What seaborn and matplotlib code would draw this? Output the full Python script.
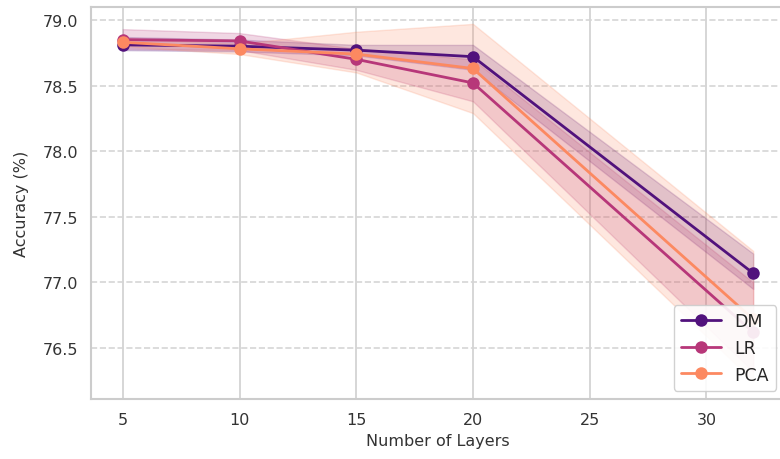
import matplotlib
matplotlib.use("Agg")
import matplotlib.pyplot as plt
import pandas as pd
import seaborn as sns

## Values
layers = [5, 10, 15, 20, 32]
methods = ["DM", "LR", "PCA"]

dm_mean = [78.81, 78.80, 78.77, 78.72, 77.07]
dm_low = [78.77, 78.76, 78.73, 78.62, 76.95]
dm_high = [78.87, 78.85, 78.81, 78.81, 77.22]

lr_mean = [78.85, 78.84, 78.70, 78.52, 76.62]
lr_low = [78.78, 78.77, 78.62, 78.38, 76.32]
lr_high = [78.93, 78.90, 78.78, 78.70, 77.00]

pca_mean = [78.83, 78.78, 78.74, 78.63, 76.72]
pca_low = [78.80, 78.74, 78.60, 78.29, 76.25]
pca_high = [78.86, 78.82, 78.91, 78.97, 77.24]

## Long data frame for seaborn
df = pd.DataFrame({
    "Number of Layers": layers * 3,
    "Accuracy (%)": dm_mean + lr_mean + pca_mean,
    "Method": ["DM"] * 5 + ["LR"] * 5 + ["PCA"] * 5,
})

sns.set_theme(style="whitegrid")
palette = sns.color_palette("magma", 3)

fig, ax = plt.subplots(figsize=(7.8, 4.6), dpi=100)
fig.subplots_adjust(left=0.117, right=1.006, top=0.983, bottom=0.13)

# shaded bands
bands = [(dm_low, dm_high), (lr_low, lr_high), (pca_low, pca_high)]
for (lo, hi), c in zip(bands, palette):
    ax.fill_between(layers, lo, hi, color=c, alpha=0.2, zorder=1)

sns.lineplot(data=df, x="Number of Layers", y="Accuracy (%)", hue="Method",
             hue_order=methods, palette=palette, marker="o", markersize=9,
             markeredgewidth=0, linewidth=2, errorbar=None, ax=ax, zorder=3)

ax.set_xlim(3.65, 33.35)
ax.set_ylim(76.11, 79.10)
ax.set_xticks([5, 10, 15, 20, 25, 30])
ax.set_yticks([76.5, 77.0, 77.5, 78.0, 78.5, 79.0])
ax.grid(axis="y", linestyle="--", linewidth=1.2, color="#d5d5d5")
ax.grid(axis="x", linestyle="-", linewidth=1.2, color="#d0d0d0")
for s in ax.spines.values():
    s.set_color("#cccccc")
    s.set_linewidth(1.5)

ax.tick_params(labelsize=11.5, colors="#333333")
ax.set_xlabel("Number of Layers", fontsize=11.5, color="#333333")
ax.set_ylabel("Accuracy (%)", fontsize=11.5, color="#333333", labelpad=10)

# Legend
ax.legend(title=None, loc="lower right", fontsize=12.5, borderaxespad=0.5,
          handlelength=2.3, framealpha=0.9)

plt.savefig("out.png", dpi=100)
